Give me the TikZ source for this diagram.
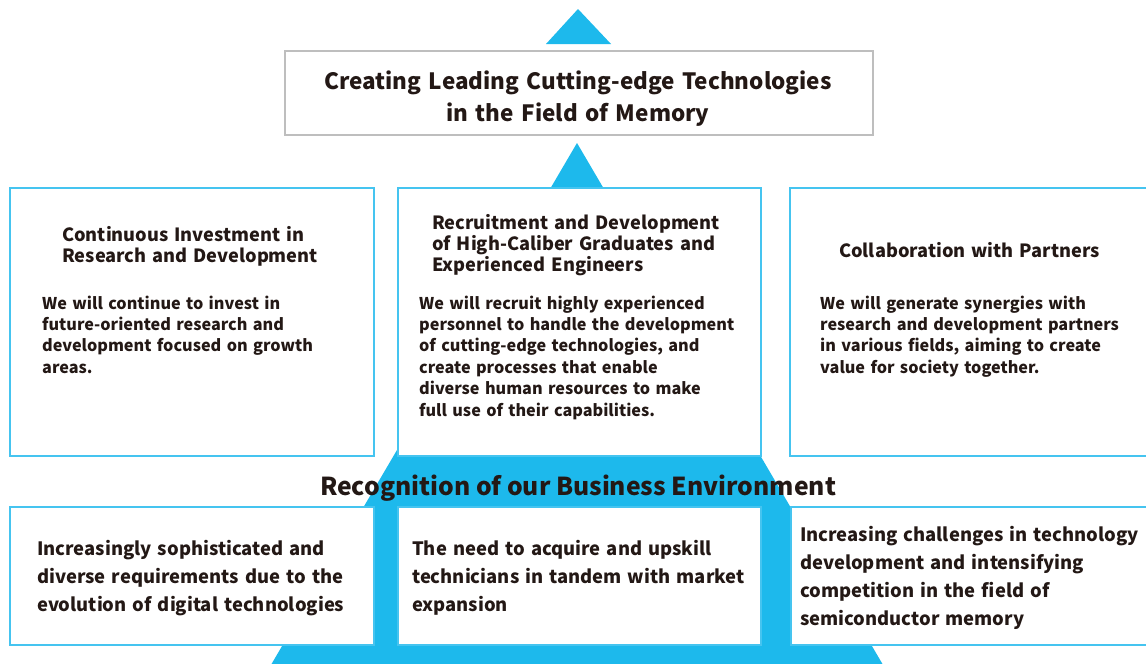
\documentclass[tikz,border=0pt]{standalone}
\usepackage{fontspec}
\setmainfont{Noto Sans CJK JP}
\definecolor{triblue}{HTML}{1DB9EC}
\definecolor{boxblue}{HTML}{45C4F0}
\definecolor{boxgray}{HTML}{BEBEBE}
\definecolor{ink}{HTML}{231815}
\hyphenpenalty=10000
\exhyphenpenalty=10000
\begin{document}
\begin{tikzpicture}[x=1pt,y=-1pt,
  bluebox/.style={draw=boxblue,line width=2pt,fill=white,inner sep=0,anchor=north west},
  graybox/.style={draw=boxgray,line width=2pt,fill=white,inner sep=0,anchor=north west},
  txt/.style={inner sep=0,anchor=base west,align=left,text=ink,text width=450pt},
  hd/.style={txt,font=\bfseries\fontsize{18.2}{21.3}\selectfont},
  bd/.style={txt,font=\bfseries\fontsize{16.2}{21.4}\selectfont},
  bt/.style={txt,font=\bfseries\fontsize{18.4}{28}\selectfont}]
\useasboundingbox (0,0) rectangle (1146,664);
\fill[white] (0,0) rectangle (1146,664);
% triangles
\fill[triblue] (578,9) -- (611,44) -- (546,44) -- cycle;
\fill[triblue] (577,143) -- (886,670) -- (268,670) -- cycle;
% top box
\node[graybox,minimum width=588pt,minimum height=84pt] (top) at (284,50) {};
\node[inner sep=0,anchor=base,align=center,text width=580pt,text=ink,font=\bfseries\fontsize{22.45}{32}\selectfont] (toptxt) at (578,89)
  {Creating Leading Cutting-edge Technologies\\in the Field of Memory};
% upper boxes
\node[bluebox,minimum width=364pt,minimum height=268pt] (b1) at (9,187) {};
\node[bluebox,minimum width=363pt,minimum height=268pt] (b2) at (397,187) {};
\node[bluebox,minimum width=370pt,minimum height=268pt] (b3) at (789,187) {};
\node[hd] (h1) at (62,241) {Continuous Investment in\\Research and Development};
\node[bd] (t1) at (42,309) {We will continue to invest in\\future-oriented research and\\development focused on growth\\areas.};
\node[hd] (h2) at (432,229) {Recruitment and Development\\of High-Caliber Graduates and\\Experienced Engineers};
\node[bd] (t2) at (419,309) {We will recruit highly experienced\\personnel to handle the development\\of cutting-edge technologies, and\\create processes that enable\\diverse human resources to make\\full use of their capabilities.};
\node[hd] (h3) at (839,257) {Collaboration with Partners};
\node[bd] (t3) at (820,309) {We will generate synergies with\\research and development partners\\in various fields, aiming to create\\value for society together.};
% heading
\node[inner sep=0,anchor=base,text=ink,font=\bfseries\fontsize{24.7}{28}\selectfont] (rec) at (578,495) {Recognition of our Business Environment};
% bottom boxes
\node[bluebox,minimum width=364pt,minimum height=138pt] (c1) at (9,506) {};
\node[bluebox,minimum width=363pt,minimum height=138pt] (c2) at (397,506) {};
\node[bluebox,minimum width=370pt,minimum height=138pt] (c3) at (790,506) {};
\node[bt] (u1) at (37,555) {Increasingly sophisticated and\\diverse requirements due to the\\evolution of digital technologies};
\node[bt] (u2) at (412,555) {The need to acquire and upskill\\technicians in tandem with market\\expansion};
\node[bt] (u3) at (800,541) {Increasing challenges in technology\\development and intensifying\\competition in the field of\\semiconductor memory};
\end{tikzpicture}
\end{document}
